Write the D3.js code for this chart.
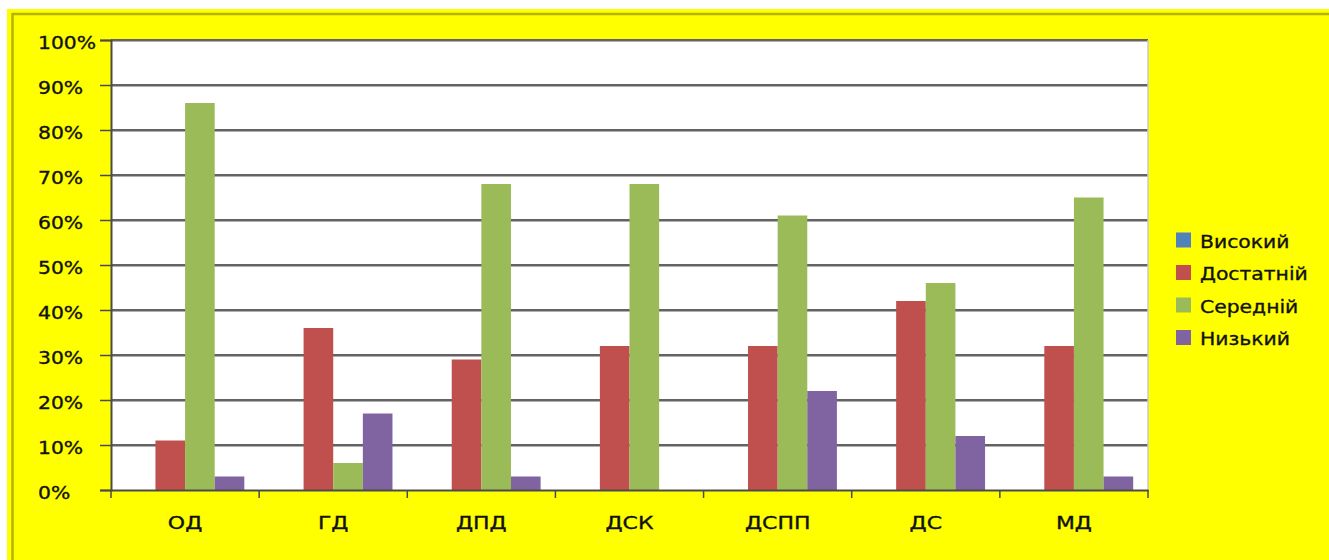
<!DOCTYPE html>
<html><head><meta charset="utf-8">
<script src="https://cdn.jsdelivr.net/npm/d3@7"></script>
<style>html,body{margin:0;padding:0;background:#fff;}svg{display:block;}</style>
</head><body>
<script>
const categories = ["ОД","ГД","ДПД","ДСК","ДСПП","ДС","МД"];
const seriesNames = ["Високий","Достатній","Середній","Низький"];
const vysokyi   = [0,0,0,0,0,0,0];
const dostatnii = [11,36,29,32,32,42,32];
const serednii  = [86,6,68,68,61,46,65];
const nyzkyi    = [3,17,3,0,22,12,3];
const yTicks = [0,10,20,30,40,50,60,70,80,90,100];
const colors = ["#4F81BD","#C0504D","#9BBB59","#8064A2"];
const seriesValues = [vysokyi, dostatnii, serednii, nyzkyi];

const W = 1329, H = 560;
const FONT = "DejaVu Sans";
const svg = d3.select("body").append("svg").attr("width", W).attr("height", H);
svg.append("rect").attr("x",0).attr("y",0).attr("width",W).attr("height",H).attr("fill","#fff");
svg.append("rect").attr("x",7).attr("y",9).attr("width",W+10).attr("height",H+10).attr("fill","#FFFF00");
// inner olive border (left + top only visible)
svg.append("line").attr("x1",12.5).attr("x2",12.5).attr("y1",13).attr("y2",H).attr("stroke","#B3B300").attr("stroke-width",2.5);
svg.append("line").attr("x1",12).attr("x2",W).attr("y1",14).attr("y2",14).attr("stroke","#B3B300").attr("stroke-width",2.5);

const L = 111, R = 1148, T = 40, B = 490;
const x = d3.scaleBand().domain(categories).range([L, R]).paddingInner(0).paddingOuter(0);
const xs = d3.scaleBand().domain(seriesNames).range([0, x.bandwidth()]).paddingInner(0).paddingOuter(0.5);
const y = d3.scaleLinear().domain([0,100]).range([B, T]);

svg.append("rect").attr("x",L).attr("y",T).attr("width",R-L).attr("height",B-T).attr("fill","#fff");

// gridlines
const g = svg.append("g");
yTicks.filter(t=>t>0).forEach(t=>{
  g.append("line").attr("x1",L).attr("x2",R).attr("y1",y(t)+0.5).attr("y2",y(t)+0.5)
    .attr("stroke","#b0b0b0").attr("stroke-width",3);
  g.append("line").attr("x1",L).attr("x2",R).attr("y1",y(t)).attr("y2",y(t))
    .attr("stroke","#4a4a4a").attr("stroke-width",1.3);
});
svg.append("line").attr("x1",R).attr("x2",R).attr("y1",T).attr("y2",B).attr("stroke","#c8c8c8").attr("stroke-width",1.5);

// bars
const data = [];
categories.forEach((c,i)=>seriesNames.forEach((s,j)=>data.push({c, s, v: seriesValues[j][i], col: colors[j]})));
svg.append("g").selectAll("rect").data(data).join("rect")
  .attr("x", d=>x(d.c)+xs(d.s))
  .attr("y", d=>y(d.v))
  .attr("width", xs.bandwidth())
  .attr("height", d=>B - y(d.v))
  .attr("fill", d=>d.col);

function styleText(sel){
  return sel.attr("font-family",FONT).attr("font-size",18).attr("fill","#111")
    .attr("stroke","#111").attr("stroke-width",0.35);
}

// y axis
const yAxis = d3.axisLeft(y).tickValues(yTicks).tickSize(11).tickFormat("");
const ya = svg.append("g").attr("transform",`translate(${L},0)`).call(yAxis);
ya.select(".domain").attr("stroke","#4a4a4a").attr("stroke-width",2);
ya.selectAll(".tick line").attr("stroke","#4a4a4a").attr("stroke-width",1.5);
styleText(svg.append("g").selectAll("text").data(yTicks).join("text"))
  .attr("transform", d=>`translate(38,${y(d)+8.5}) scale(1.13,1)`)
  .attr("text-anchor","start").text(d=>d+"%");

// x axis
const xAxis = d3.axisBottom(x).tickSize(0).tickFormat("");
const xa = svg.append("g").attr("transform",`translate(0,${B})`).call(xAxis);
xa.select(".domain").attr("stroke","#4a4a4a").attr("stroke-width",2);
const bounds = categories.map(c=>x(c)).concat([R]);
xa.selectAll("line.bnd").data(bounds).join("line").attr("class","bnd")
  .attr("x1",d=>d).attr("x2",d=>d).attr("y1",0).attr("y2",8)
  .attr("stroke","#4a4a4a").attr("stroke-width",1.5);
styleText(svg.append("g").selectAll("text").data(categories).join("text"))
  .attr("transform", d=>`translate(${x(d)+x.bandwidth()/2},529) scale(1.22,1)`)
  .attr("text-anchor","middle").text(d=>d);

// legend
const lg = svg.append("g");
const ly = d3.scalePoint().domain(seriesNames).range([240, 337.5]);
seriesNames.forEach((s,j)=>{
  lg.append("rect").attr("x",1176).attr("y",ly(s)-7.5).attr("width",15).attr("height",15).attr("fill",colors[j]);
  styleText(lg.append("text")).attr("transform",`translate(1200,${ly(s)+7.5}) scale(1.13,1)`).text(s);
});
</script>
</body></html>
